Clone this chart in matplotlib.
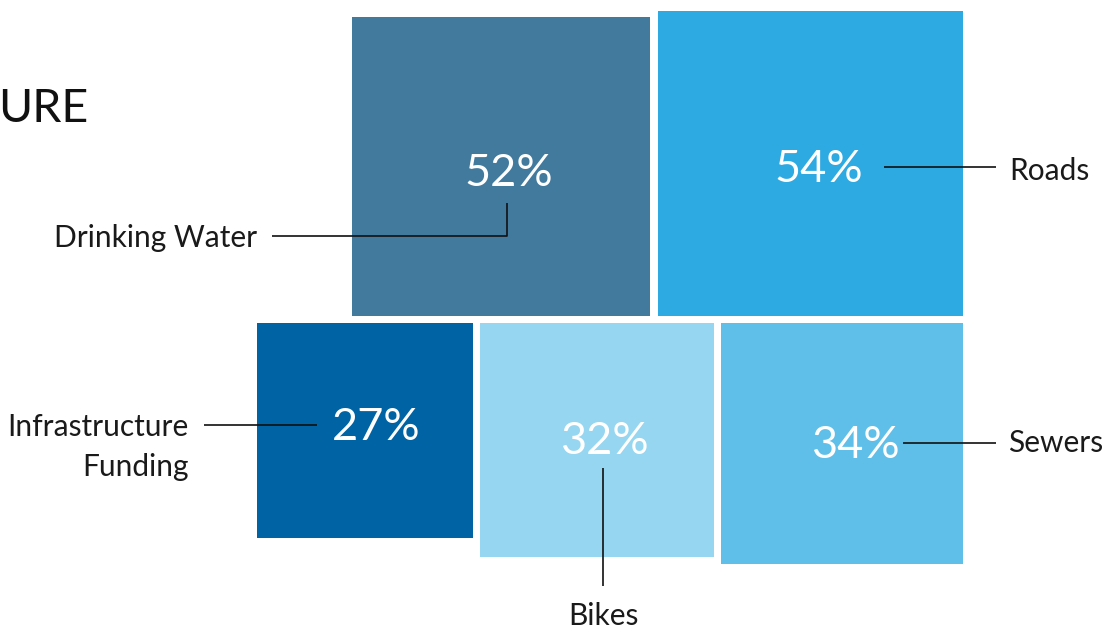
import matplotlib.pyplot as plt
from matplotlib.patches import Rectangle
import numpy as np

# shares of respondents per infrastructure area
categories = ['Drinking Water', 'Roads', 'Infrastructure\nFunding', 'Bikes', 'Sewers']
values = [52, 54, 27, 32, 34]
pct_labels = ['52%', '54%', '27%', '32%', '34%']

colors = ['#427a9e', '#2eaae3', '#0064a4', '#96d6f0', '#60bfe9']
rows = [0, 0, 1, 1, 1]

W, H = 1112, 633
k = 41.45          # px per sqrt(percent), so square area ~ value
right_edge = 963
top_row_bottom = 316
bottom_row_top = 322.5
gaps = [8, 7]

# label placement (pixel coords of the drawing)
pct_xy = [(509, 186), (819, 182), (376, 440), (604, 454), (855, 458)]
name_xy = [(257, 247), (1009, 180), (189, 476), (603, 625), (1008, 452)]
name_ha = ['right', 'left', 'right', 'center', 'left']
leaders = [
    [(272, 236), (507, 236), (507, 203)],
    [(884, 167), (996, 167)],
    [(204, 425), (317, 425)],
    [(603, 468), (603, 586)],
    [(903, 443), (996, 443)],
]

plt.rcParams['font.family'] = ['Lato', 'DejaVu Sans']
fig = plt.figure(figsize=(W / 100, H / 100), dpi=100)
ax = fig.add_axes([0, 0, 1, 1])
ax.set_xlim(0, W)
ax.set_ylim(H, 0)
ax.axis('off')

sides = k * np.sqrt(np.array(values, dtype=float))

# lay squares out right to left in each row
boxes = [None] * len(values)
for r in (0, 1):
    x = right_edge
    idx = [i for i in range(len(values)) if rows[i] == r][::-1]
    for i in idx:
        s = sides[i]
        left = x - s
        if r == 0:
            y0 = top_row_bottom - s
        else:
            y0 = bottom_row_top
        boxes[i] = (left, y0, s)
        x = left - gaps[r]

for i, (left, y0, s) in enumerate(boxes):
    ax.add_patch(Rectangle((left, y0), s, s, facecolor=colors[i], edgecolor='none'))

for i in range(len(values)):
    px, py = pct_xy[i]
    ax.text(px, py, pct_labels[i], color='white', fontsize=32.5, fontweight='normal',
            ha='center', va='baseline')
    nx, ny = name_xy[i]
    ax.text(nx, ny, categories[i], color='#1a1a1a', fontsize=21.5, fontweight='normal',
            ha=name_ha[i], va='baseline', multialignment='right', linespacing=1.5)
    pts = np.array(leaders[i])
    ax.plot(pts[:, 0], pts[:, 1], color='#111111', lw=1.2, solid_capstyle='butt')

ax.text(-2, 122, 'URE', color='#111111', fontsize=33.5, fontweight='normal',
        ha='left', va='baseline')

fig.savefig('out.png', dpi=100)
